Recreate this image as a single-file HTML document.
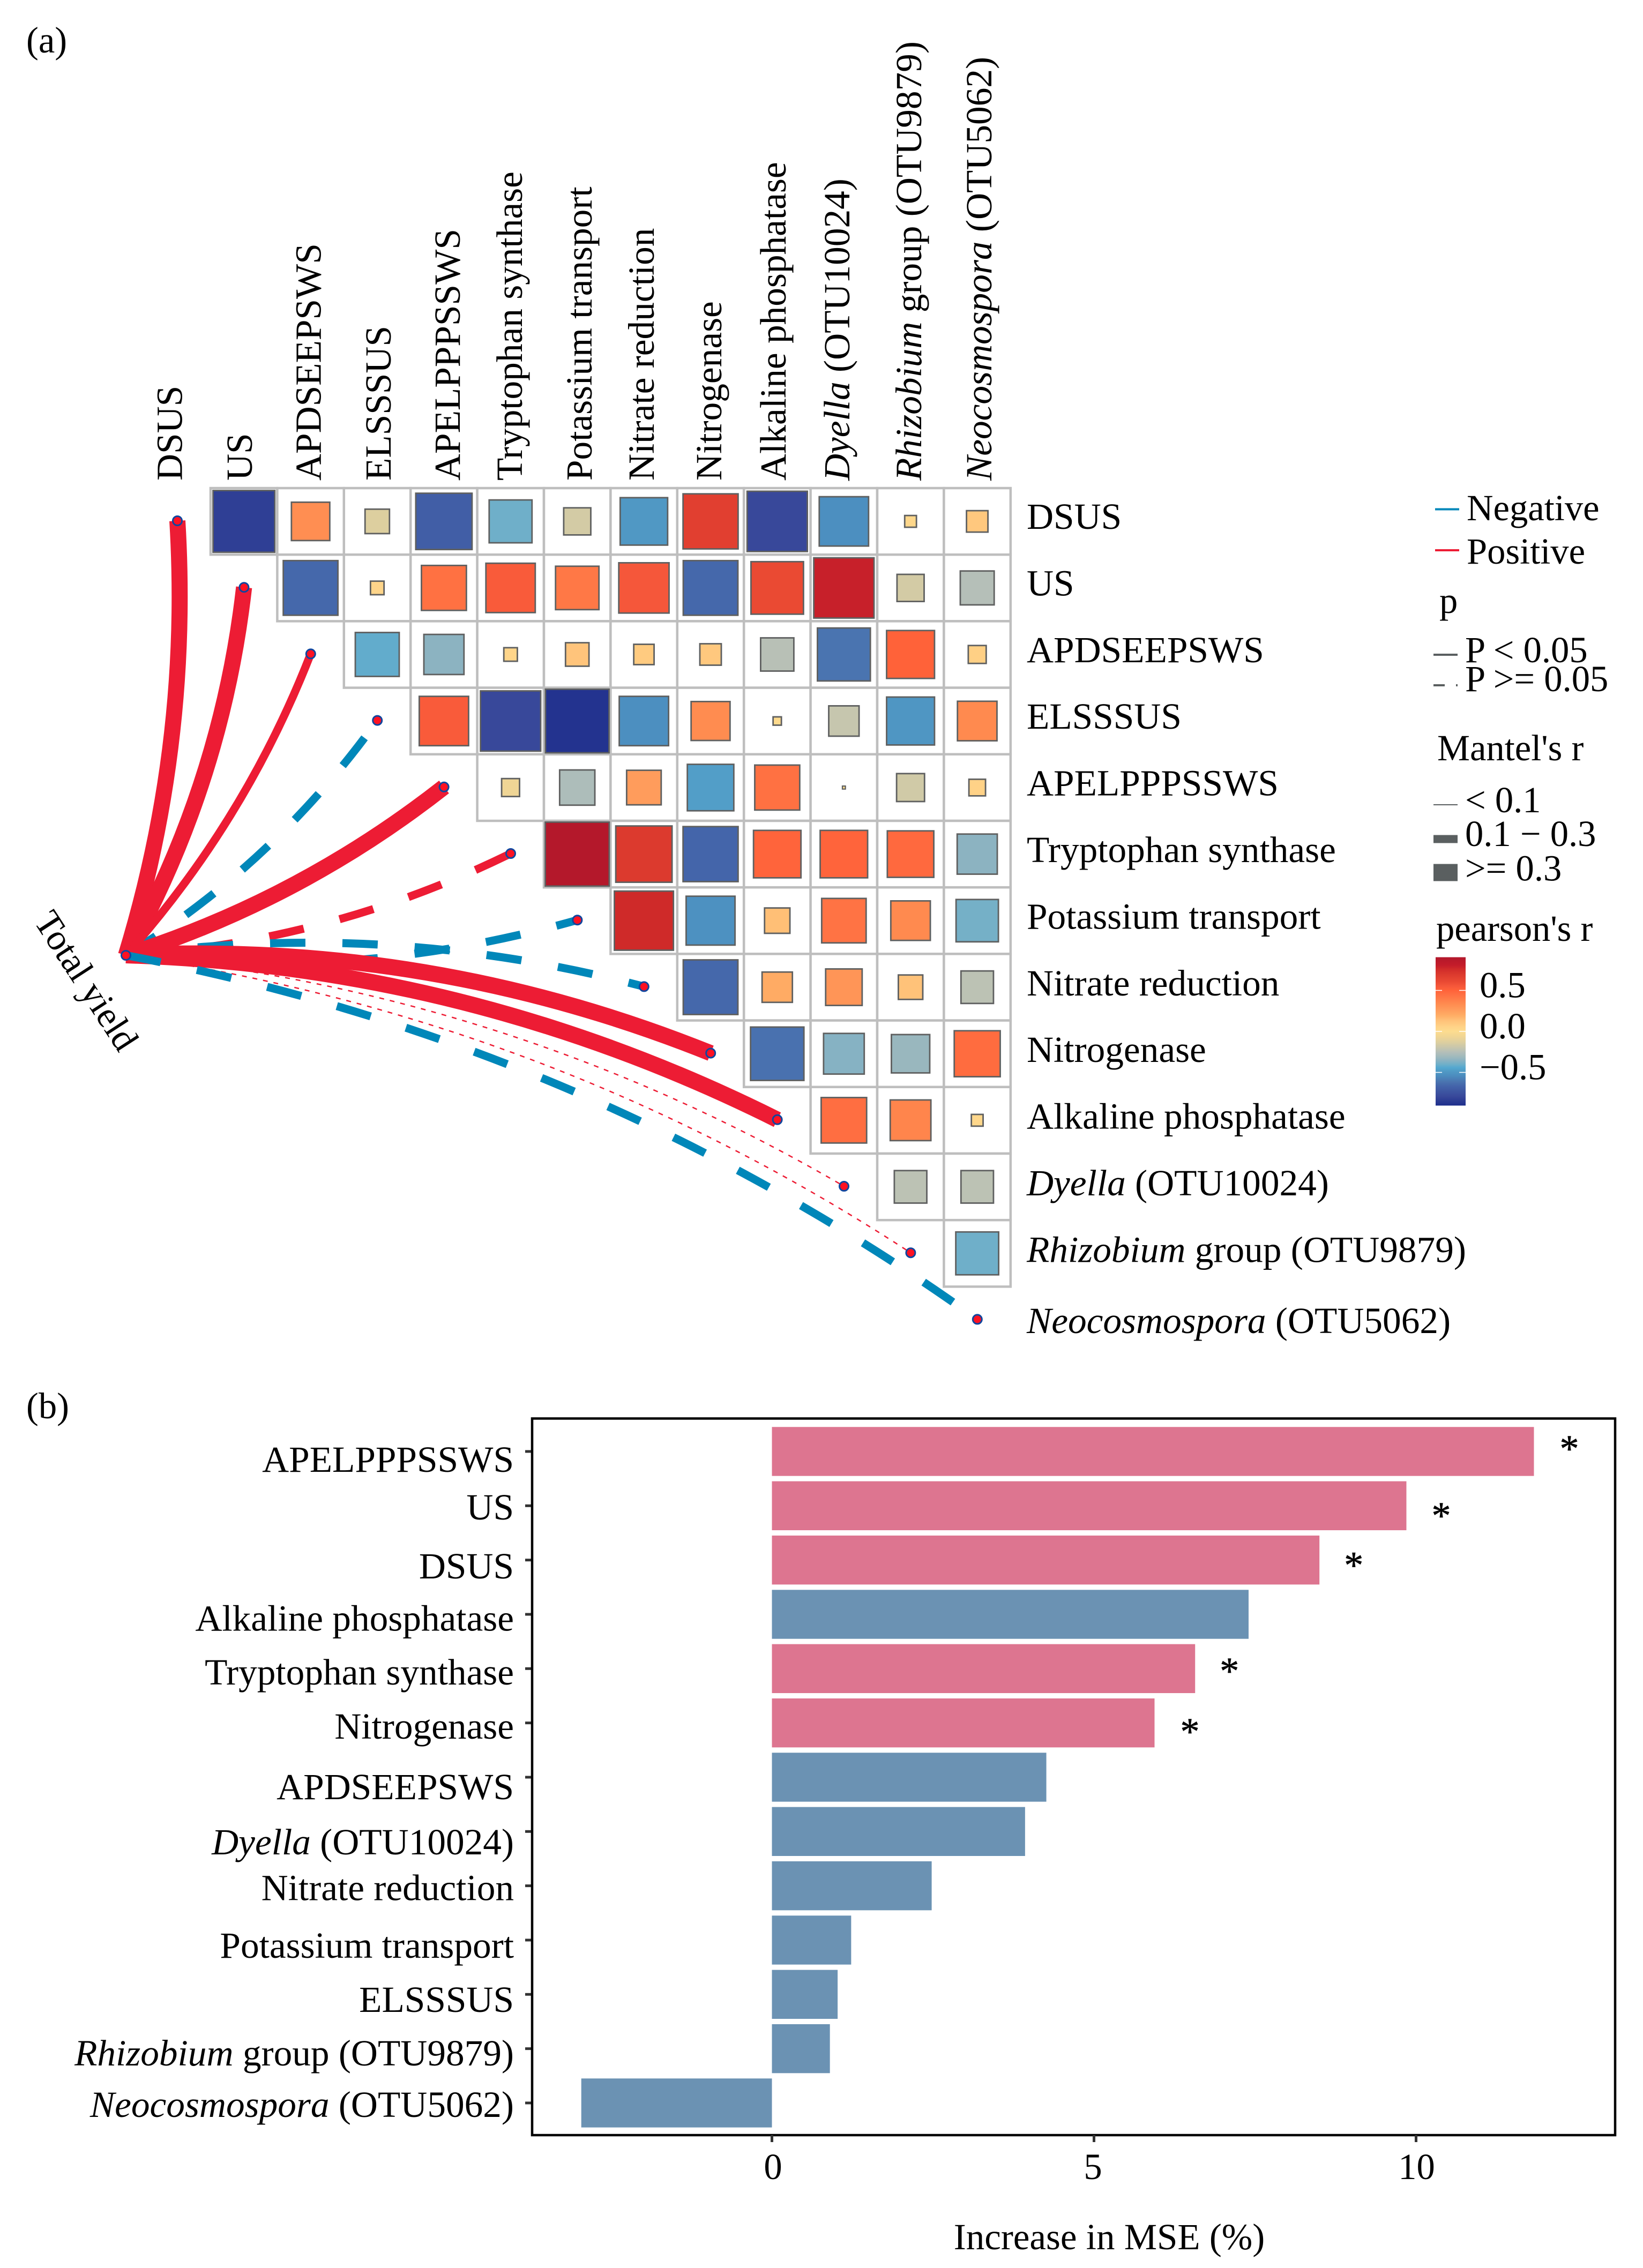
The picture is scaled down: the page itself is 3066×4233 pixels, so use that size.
<!DOCTYPE html>
<html lang="en">
<head>
<meta charset="utf-8">
<title>Correlation network and variable importance</title>
<style>
html,body{margin:0;padding:0;background:#fff;}
svg{display:block;}
text{font-family:"Liberation Serif","Times New Roman",serif;font-size:68.6px;fill:#000;}
</style>
</head>
<body>
<svg id="fig" xmlns="http://www.w3.org/2000/svg" width="3066" height="4233" viewBox="0 0 3066 4233">
  <rect x="0" y="0" width="3066" height="4233" fill="#fff"/>
  <text x="49" y="98">(a)</text>
  <text x="49" y="2647">(b)</text>
  <g id="grid-layer"></g>
  <g id="link-layer"></g>
  <g id="label-layer"></g>
  <text transform="translate(62,1719.4) rotate(57)">Total yield</text>

  <g>
    <line x1="2678" x2="2723" y1="950.5" y2="950.5" stroke="#0087B9" stroke-width="4"/>
    <text x="2737" y="971">Negative</text>
    <line x1="2678" x2="2723" y1="1027" y2="1027" stroke="#ED1C34" stroke-width="4"/>
    <text x="2737" y="1052">Positive</text>
    <text x="2686" y="1144">p</text>
    <line x1="2675" x2="2720" y1="1222" y2="1222" stroke="#5a5f60" stroke-width="4"/>
    <text x="2734" y="1236">P &lt; 0.05</text>
    <line x1="2675" x2="2696" y1="1279" y2="1279" stroke="#5a5f60" stroke-width="4"/>
    <line x1="2717" x2="2720" y1="1279" y2="1279" stroke="#5a5f60" stroke-width="4"/>
    <text x="2734" y="1290">P &gt;= 0.05</text>
    <text x="2682" y="1419">Mantel's r</text>
    <line x1="2675" x2="2720" y1="1502" y2="1502" stroke="#5a5f60" stroke-width="2"/>
    <text x="2734" y="1516">&lt; 0.1</text>
    <line x1="2675" x2="2720" y1="1566" y2="1566" stroke="#5a5f60" stroke-width="15"/>
    <text x="2734" y="1579">0.1 − 0.3</text>
    <line x1="2675" x2="2720" y1="1628.5" y2="1628.5" stroke="#5a5f60" stroke-width="32"/>
    <text x="2734" y="1643.5">&gt;= 0.3</text>
    <text x="2680" y="1756">pearson's r</text>
    <g id="colorbar-layer"></g>
  </g>

  <g id="bar-layer"></g>
</svg>

<script>
// ---- Panel (a) data ----
const topLabels = ['DSUS','US','APDSEEPSWS','ELSSSUS','APELPPPSSWS','Tryptophan synthase','Potassium transport','Nitrate reduction','Nitrogenase','Alkaline phosphatase','Dyella (OTU10024)','Rhizobium group (OTU9879)','Neocosmospora (OTU5062)'];

// Pearson's r, upper triangle, each row starts on its own diagonal
const corrDSUS = [-0.83,0.32,-0.13,-0.69,-0.40,-0.16,-0.49,0.66,-0.79,-0.53,0.03,0.10];
const corrUS = [-0.65,0.04,0.44,0.53,0.41,0.55,-0.65,0.60,0.79,-0.16,-0.25];
const corrAPD = [-0.42,-0.35,0.04,0.12,0.09,0.10,-0.24,-0.61,0.50,0.07];
const corrELS = [0.53,-0.79,-0.88,-0.53,0.33,0.015,-0.20,-0.50,0.34];
const corrAPEL = [-0.07,-0.27,0.26,-0.47,0.44,0.002,-0.17,0.06];
const corrTryp = [0.89,0.69,-0.66,0.49,0.49,0.47,-0.35];
const corrPot = [0.76,-0.52,0.14,0.43,0.34,-0.39];
const corrNitr = [-0.65,0.20,0.29,0.13,-0.23];
const corrNase = [-0.62,-0.36,-0.32,0.46];
const corrAlk = [0.45,0.36,0.03];
const corrDyella = [-0.23,-0.23];
const corrRhiz = [-0.40];
const corrRows = [corrDSUS,corrUS,corrAPD,corrELS,corrAPEL,corrTryp,corrPot,corrNitr,corrNase,corrAlk,corrDyella,corrRhiz];

// Mantel test between Total yield and each variable
const mantelR = [0.36,0.33,0.20,0.15,0.40,0.15,0.14,0.13,0.38,0.37,0.05,0.04,0.12];
const mantelP = [0.01,0.01,0.02,0.21,0.01,0.30,0.32,0.35,0.01,0.01,0.40,0.42,0.20];
const mantelSign = [1,1,1,-1,1,1,-1,-1,1,1,1,1,-1];

// ---- Panel (b) data ----
const barCategories = ['APELPPPSSWS','US','DSUS','Alkaline phosphatase','Tryptophan synthase','Nitrogenase','APDSEEPSWS','Dyella (OTU10024)','Nitrate reduction','Potassium transport','ELSSSUS','Rhizobium group (OTU9879)','Neocosmospora (OTU5062)'];
const barValues = [11.83,9.85,8.50,7.40,6.57,5.94,4.26,3.93,2.48,1.23,1.02,0.90,-2.96];
const barSignificant = [1,1,1,0,1,1,0,0,0,0,0,0,0];
const xTickValues = [0,5,10];
const colorbarTicks = [0.5,0,-0.5];

// ---- Helpers ----
const NS = 'http://www.w3.org/2000/svg';
function make(tag, parent, attrs){
  const el = document.createElementNS(NS, tag);
  for (const k in attrs) el.setAttribute(k, attrs[k]);
  parent.appendChild(el);
  return el;
}
function slug(s){ return s.toLowerCase().replace(/[^a-z0-9]+/g,'-').replace(/^-|-$/g,''); }
function fillLabel(el, label){
  const m = label.match(/^(Dyella|Rhizobium|Neocosmospora)(.*)$/);
  if (m){
    const it = make('tspan', el, {'font-style':'italic'});
    it.textContent = m[1];
    const rest = make('tspan', el, {});
    rest.textContent = m[2];
  } else {
    el.textContent = label;
  }
}

// Colour scale
const colorStops = [
 [-0.90,'#1E2E8C'],[-0.79,'#38489A'],[-0.66,'#4465AA'],[-0.61,'#4A74B0'],[-0.53,'#4C8FC0'],[-0.49,'#5098C4'],
 [-0.44,'#54A8CF'],[-0.40,'#6FAFC9'],[-0.35,'#8CB3C1'],[-0.30,'#A2BABC'],[-0.25,'#B5BFB8'],[-0.20,'#C6C6AE'],
 [-0.16,'#D3CBA5'],[-0.13,'#DDCF9F'],[-0.07,'#EFD595'],[0,'#FDDC8F'],[0.06,'#FFD287'],[0.10,'#FFC87E'],
 [0.13,'#FFC279'],[0.20,'#FFAB64'],[0.26,'#FF9C5C'],[0.33,'#FF8C50'],[0.43,'#FF7344'],[0.50,'#FF6239'],
 [0.55,'#F5573A'],[0.60,'#EA4A33'],[0.69,'#DC3A2E'],[0.76,'#CF2A29'],[0.80,'#C41C2A'],[0.90,'#B2182B']];
function hexRgb(h){ return [1,3,5].map(i=>parseInt(h.substr(i,2),16)); }
function colorOf(r){
  if (r <= colorStops[0][0]) return colorStops[0][1];
  for (let i=1;i<colorStops.length;i++){
    if (r <= colorStops[i][0]){
      const a=colorStops[i-1], b=colorStops[i], t=(r-a[0])/(b[0]-a[0]);
      const ca=hexRgb(a[1]), cb=hexRgb(b[1]);
      return 'rgb('+ca.map((v,k)=>Math.round(v+(cb[k]-v)*t)).join(',')+')';
    }
  }
  return colorStops[colorStops.length-1][1];
}

// ---- Panel (a) axes ----
const gridLeft = 393, gridTop = 911, cellW = 124.4, cellH = 124.2;
const colX = c => gridLeft + cellW*c;
const rowY = r => gridTop + cellH*r;
const squareSide = r => 126.5*Math.sqrt(Math.abs(r));
const nodeX = i => 331 + cellW*i;
const nodeY = i => 972 + cellH*i;
const originX = 235, originY = 1783;

const gridLayer = document.getElementById('grid-layer');
corrRows.forEach((vals,row)=>{
  vals.forEach((v,k)=>{
    const col = row + k;
    const cell = make('rect', gridLayer, {x:colX(col),y:rowY(row),width:cellW,height:cellH,fill:'#fff',stroke:'#BEBEBE','stroke-width':4.5});
    
    
  });
});
corrRows.forEach((vals,row)=>{
  vals.forEach((v,k)=>{
    const col = row + k;
    const s = squareSide(v);
    const sq = make('rect', gridLayer, {x:colX(col)+cellW/2-s/2,y:rowY(row)+cellH/2-s/2,width:s,height:s,fill:colorOf(v),stroke:'#5f6060','stroke-width':s<10?2.2:2.8});
    
    
  });
});

// Links
const linkLayer = document.getElementById('link-layer');
const linkWidth = r => r < 0.1 ? 2.5 : (r < 0.3 ? 15 : 30);
const linkBend = i => i === 0 ? -0.09 : (i === 2 || i === 4) ? -0.09 : i < 7 ? -0.1 : i === 7 ? 0.1 : 0.11;
const linkRank = i => i === mantelR.length-1 ? 2 : (mantelP[i] < 0.05 ? 1 : 0);
const linkOrder = mantelR.map((_,i)=>i).sort((a,b)=> linkRank(a)-linkRank(b) || a-b);
linkOrder.forEach(i=>{
  const x1 = originX, y1 = originY, x2 = nodeX(i), y2 = nodeY(i);
  const dx = x2-x1, dy = y2-y1;
  const c = linkBend(i);
  const mx = (x1+x2)/2 + c*dy, my = (y1+y2)/2 - c*dx;
  const w = linkWidth(mantelR[i]);
  const attrs = {d:'M'+x1+' '+y1+' Q'+mx+' '+my+' '+x2+' '+y2,fill:'none',stroke:mantelSign[i]>0?'#ED1C34':'#0087B9','stroke-width':w};
  if (mantelP[i] >= 0.05) attrs['stroke-dasharray'] = w < 5 ? '9 11' : '66 69';
  const p = make('path', linkLayer, attrs);
  
  
});
topLabels.forEach((lab,i)=>{
  const d = make('circle', linkLayer, {cx:nodeX(i),cy:nodeY(i),r:8.5,fill:'#FF1122',stroke:'#0F469F','stroke-width':3});
  
  
});
const od = make('circle', linkLayer, {cx:originX,cy:originY,r:8.5,fill:'#FF1122',stroke:'#0F469F','stroke-width':3});



// Labels: top column headers and right row headers
const labelLayer = document.getElementById('label-layer');
const topLabelBaseline = [339.5,470,598.5,729,858,974,1104,1220,1346,1466,1585,1719,1850];
const labelFont = 'font-size:69.3px';
topLabels.forEach((lab,i)=>{
  const t = make('text', labelLayer, {transform:'translate('+topLabelBaseline[i]+',897) rotate(-90)',style:labelFont});
  
  
  fillLabel(t, lab);
  const r = make('text', labelLayer, {x:1916,y:987+124.4*i+(i===12?8:0),style:labelFont});
  
  
  fillLabel(r, lab);
});

// Colour bar
const cbLayer = document.getElementById('colorbar-layer');
const cbY = r => 1925 - r*153;
const defs = make('defs', cbLayer, {});
const grad = make('linearGradient', defs, {id:'cbGrad',x1:0,y1:1,x2:0,y2:0});
colorStops.forEach(s=>{
  make('stop', grad, {offset:((s[0]+0.9)/1.8),'stop-color':s[1]});
});
const cbRect = make('rect', cbLayer, {x:2679,y:cbY(0.905),width:56,height:cbY(-0.905)-cbY(0.905),fill:'url(#cbGrad)'});


colorbarTicks.forEach(v=>{
  [[2679,2691],[2723,2735]].forEach(seg=>{
    const tk = make('line', cbLayer, {x1:seg[0],x2:seg[1],y1:cbY(v),y2:cbY(v),stroke:'#fff','stroke-width':1.5});
    
    
  });
  const t = make('text', cbLayer, {x:2761,y:cbY(v)+13});
  
  
  t.textContent = (v<0?'−':'') + Math.abs(v).toFixed(1);
});

// ---- Panel (b) ----
const barLayer = document.getElementById('bar-layer');
const panelL = 993, panelR = 3014, panelT = 2647.5, panelB = 3985;
const xScale = v => 1440.5 + v*120.2;
const yScale = i => 2709 + i*101.33;
const barH = 91.4;
const labelNudge = [38,25.7,34.3,30.5,29.7,29.4,41,42.7,27,33,32.7,31.5,26];
const xLabelNudge = [2,-2,1];
const starDx = [66,65,64,0,64,66];
const starDy = [-15,8.5,0,0,-5.4,6.5];

barValues.forEach((v,i)=>{
  const x0 = xScale(Math.min(0,v)), x1 = xScale(Math.max(0,v));
  const b = make('rect', barLayer, {x:x0,y:yScale(i)-barH/2,width:x1-x0,height:barH,fill:barSignificant[i]?'#DD7590':'#6B92B3'});
  
  
  const tick = make('line', barLayer, {x1:980,x2:panelL,y1:yScale(i),y2:yScale(i),stroke:'#333','stroke-width':5});
  
  
  const t = make('text', barLayer, {x:959,y:yScale(i)+labelNudge[i],'text-anchor':'end',style:'font-size:69.3px'});
  
  
  fillLabel(t, barCategories[i]);
  if (barSignificant[i]){
    const st = make('text', barLayer, {x:xScale(v)+starDx[i],y:yScale(i)+starDy[i]+34,'text-anchor':'middle',stroke:'#000','stroke-width':0.7,style:'font-size:72px'});
    
    
    st.textContent = '*';
  }
});
const frame = make('rect', barLayer, {x:panelL,y:panelT,width:panelR-panelL,height:panelB-panelT,fill:'none',stroke:'#000','stroke-width':4.5});


xTickValues.forEach((v,k)=>{
  const tk = make('line', barLayer, {x1:xScale(v),x2:xScale(v),y1:panelB,y2:3998,stroke:'#333','stroke-width':5});
  
  
  const t = make('text', barLayer, {x:xScale(v)+xLabelNudge[k],y:4067,'text-anchor':'middle'});
  
  
  t.textContent = String(v);
});
const xTitle = make('text', barLayer, {x:2070,y:4198,'text-anchor':'middle',style:'font-size:69px'});


xTitle.textContent = 'Increase in MSE (%)';
</script>
</body>
</html>
